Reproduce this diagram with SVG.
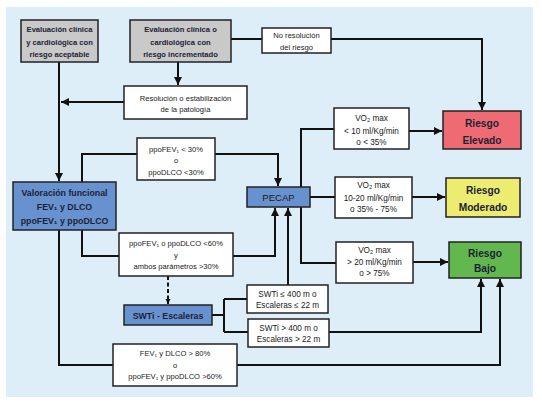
<svg xmlns="http://www.w3.org/2000/svg" width="542" height="403" viewBox="0 0 542 403">
<defs>
<style>
text{font-family:"Liberation Sans",Arial,sans-serif;text-anchor:middle;fill:#1a1a1a}
.bx{fill:#fff;stroke:#222;stroke-width:1.5}
.gray{fill:#c9c9c9}
.blue{fill:#6892cf}
.red{fill:#ef6b74}
.yel{fill:#ecec70}
.grn{fill:#62b84e}
.s{font-size:7.6px}
.m{font-size:8.2px}
.hb{font-size:7.6px;font-weight:bold;fill:#1c2235}
.lb{font-size:8.8px;font-weight:bold;fill:#1c2235}
.rk{font-size:10.2px;font-weight:bold;fill:#1c2235}
.c{fill:none;stroke:#111;stroke-width:2}
.d{stroke-dasharray:4 2.5}
</style>
<marker id="ar" markerUnits="userSpaceOnUse" markerWidth="9" markerHeight="9" refX="8" refY="4" orient="auto">
<path d="M0,0 L8,4 L0,8 z" fill="#111"/>
</marker>
<marker id="sa" markerUnits="userSpaceOnUse" markerWidth="6" markerHeight="6" refX="5" refY="2.5" orient="auto">
<path d="M0,0 L5,2.5 L0,5 z" fill="#111"/>
</marker>
</defs>
<rect x="6" y="7" width="527" height="390" fill="#ddeef8"/>

<g id="connectors">
<path class="c" d="M59,62 V181" marker-end="url(#ar)"/>
<path class="c" d="M178,62 V85" marker-end="url(#ar)"/>
<path class="c" d="M124,102 H61" marker-end="url(#ar)"/>
<path class="c" d="M231,39 H262"/>
<path class="c" d="M331,39 H482 V110" marker-end="url(#ar)"/>
<path class="c" d="M82,182 V154 H137"/>
<path class="c" d="M215,154 H278 V186" marker-end="url(#ar)"/>
<path class="c" d="M82,230 V256 H119"/>
<path class="c" d="M233,256 H275 V208" marker-end="url(#ar)"/>
<path class="c d" d="M168,276 V304" marker-end="url(#sa)"/>
<path class="c" d="M212,315 H224 M224,299 V332 M224,299 H247 M224,332 H248"/>
<path class="c" d="M288,285 V208" marker-end="url(#ar)"/>
<path class="c" d="M329,332 H481 V279" marker-end="url(#ar)"/>
<path class="c" d="M59,230 V365 H113"/>
<path class="c" d="M237,365 H500 V279" marker-end="url(#ar)"/>
<path class="c" d="M301,187 V129 H334"/>
<path class="c" d="M409,131 H442" marker-end="url(#ar)"/>
<path class="c" d="M310,197 H335"/>
<path class="c" d="M412,197 H445" marker-end="url(#ar)"/>
<path class="c" d="M301,207 V263 H336"/>
<path class="c" d="M413,262 H448" marker-end="url(#ar)"/>
</g>

<g id="eval-aceptable">
<rect class="bx gray" x="21" y="20" width="77" height="42"/>
<text class="hb" x="59.5" y="32">Evaluación clínica</text>
<text class="hb" x="59.5" y="44.5">y cardiológica con</text>
<text class="hb" x="59.5" y="57">riesgo aceptable</text>
</g>

<g id="eval-incrementado">
<rect class="bx gray" x="130" y="20" width="101" height="42"/>
<text class="hb" x="180.5" y="32">Evaluación clínica o</text>
<text class="hb" x="180.5" y="44.5">cardiológica con</text>
<text class="hb" x="180.5" y="57">riesgo incrementado</text>
</g>

<g id="no-resolucion">
<rect class="bx" x="262" y="28" width="69" height="25"/>
<text class="s" x="296.5" y="38">No resolución</text>
<text class="s" x="296.5" y="49.5">del riesgo</text>
</g>

<g id="resolucion">
<rect class="bx" x="124" y="86" width="123" height="33"/>
<text class="s" x="185.5" y="101">Resolución o estabilización</text>
<text class="s" x="185.5" y="112">de la patología</text>
</g>

<g id="valoracion">
<rect class="bx blue" x="13" y="182" width="103" height="48"/>
<text class="lb" x="64.5" y="196">Valoración funcional</text>
<text class="lb" x="64.5" y="210">FEV₁ y DLCO</text>
<text class="lb" x="64.5" y="224">ppoFEV₁ y ppoDLCO</text>
</g>

<g id="cond-30">
<rect class="bx" x="137" y="138" width="78" height="42"/>
<text class="s" x="176" y="151.5">ppoFEV₁ &lt; 30%</text>
<text class="s" x="176" y="163">o</text>
<text class="s" x="176" y="174.5">ppoDLCO &lt;30%</text>
</g>

<g id="cond-60">
<rect class="bx" x="119" y="233" width="114" height="43"/>
<text class="s" x="176" y="245.5">ppoFEV₁ o ppoDLCO &lt;60%</text>
<text class="s" x="176" y="257.5">y</text>
<text class="s" x="176" y="268.5">ambos parámetros &gt;30%</text>
</g>

<g id="pecap">
<rect class="bx blue" x="247" y="187" width="63" height="20"/>
<text x="278.5" y="201" font-size="9.6" fill="#1c2235">PECAP</text>
</g>

<g id="vo2-bajo10">
<rect class="bx" x="334" y="108" width="75" height="41"/>
<text class="m" x="371.5" y="121">VO₂ max</text>
<text class="m" x="371.5" y="134">&lt; 10 ml/Kg/min</text>
<text class="m" x="371.5" y="145">o  &lt; 35%</text>
</g>

<g id="vo2-10-20">
<rect class="bx" x="335" y="177" width="77" height="41"/>
<text class="m" x="373.5" y="188">VO₂ max</text>
<text class="m" x="373.5" y="201">10-20 ml/Kg/min</text>
<text class="m" x="373.5" y="212">o  35% - 75%</text>
</g>

<g id="vo2-20">
<rect class="bx" x="336" y="242" width="77" height="41"/>
<text class="m" x="374.5" y="253">VO₂ max</text>
<text class="m" x="374.5" y="265">&gt; 20 ml/Kg/min</text>
<text class="m" x="374.5" y="276">o  &gt; 75%</text>
</g>

<g id="riesgo-elevado">
<rect class="bx red" x="443" y="111" width="78" height="38"/>
<text class="rk" x="482" y="127">Riesgo</text>
<text class="rk" x="482" y="144">Elevado</text>
</g>

<g id="riesgo-moderado">
<rect class="bx yel" x="446" y="178" width="74" height="39"/>
<text class="rk" x="483" y="194">Riesgo</text>
<text class="rk" x="483" y="211">Moderado</text>
</g>

<g id="riesgo-bajo">
<rect class="bx grn" x="449" y="242" width="72" height="36"/>
<text class="rk" x="485" y="257">Riesgo</text>
<text class="rk" x="485" y="272">Bajo</text>
</g>

<g id="swti">
<rect class="bx blue" x="124" y="305" width="88" height="20"/>
<text class="lb" x="168" y="318.5">SWTi -  Escaleras</text>
</g>

<g id="swti-menor">
<rect class="bx" x="247" y="285" width="81" height="28"/>
<text class="m" x="287.5" y="297">SWTi ≤ 400 m o</text>
<text class="m" x="287.5" y="308">Escaleras ≤ 22 m</text>
</g>

<g id="swti-mayor">
<rect class="bx" x="248" y="319" width="81" height="28"/>
<text class="m" x="288.5" y="330.5">SWTi &gt; 400 m o</text>
<text class="m" x="288.5" y="342">Escaleras &gt; 22 m</text>
</g>

<g id="cond-80">
<rect class="bx" x="113" y="344" width="124" height="42"/>
<text class="s" x="175" y="356">FEV₁ y DLCO &gt; 80%</text>
<text class="s" x="175" y="368">o</text>
<text class="s" x="175" y="379">ppoFEV₁ y ppoDLCO &gt;60%</text>
</g>
</svg>
